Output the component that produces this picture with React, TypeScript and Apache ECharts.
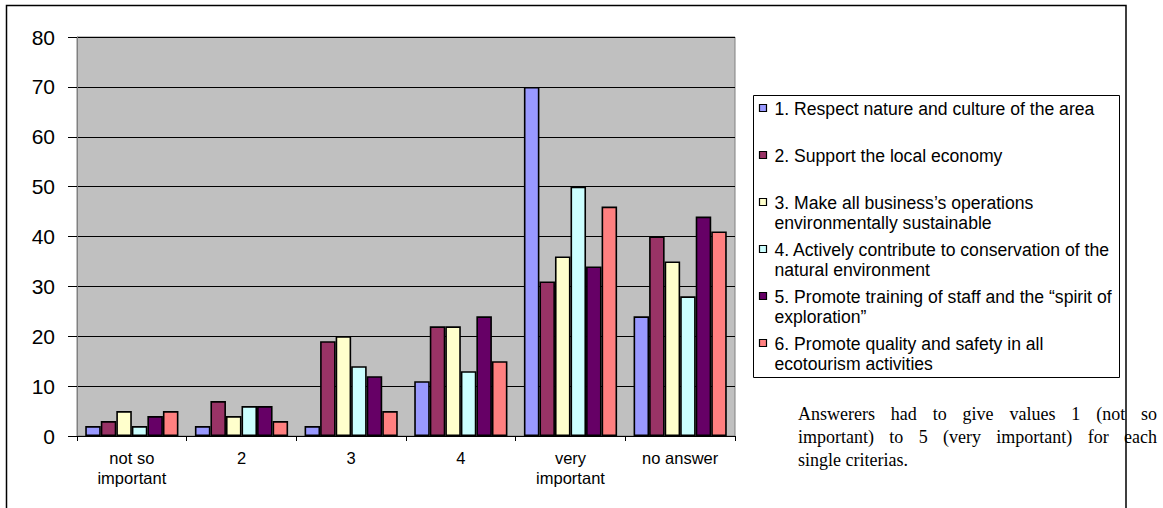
import React, { useEffect, useRef } from "react";
import * as echarts from "echarts";

// Answer scale shown on the category axis
const categories = ["not so\nimportant", "2", "3", "4", "very\nimportant", "no answer"];

// Criteria (legend entries; line breaks as laid out in the legend box)
const criteria = [
  "1. Respect nature and culture of the area",
  "2. Support the local economy",
  "3. Make all business\u2019s operations\nenvironmentally sustainable",
  "4. Actively contribute to conservation of the\nnatural environment",
  "5. Promote training of staff and the \u201cspirit of\nexploration\u201d",
  "6. Promote quality and safety in all\necotourism activities",
];

// Number of answers per criterion, one value per category
const respectNature = [2, 2, 2, 11, 70, 24];
const localEconomy = [3, 7, 19, 22, 31, 40];
const sustainableOps = [5, 4, 20, 22, 36, 35];
const conservation = [2, 6, 14, 13, 50, 28];
const staffTraining = [4, 6, 12, 24, 34, 44];
const qualitySafety = [5, 3, 5, 15, 46, 41];

const seriesValues = [respectNature, localEconomy, sustainableOps, conservation, staffTraining, qualitySafety];
const seriesColors = ["#9999FF", "#993366", "#FFFFCC", "#CCFFFF", "#660066", "#FF8080"];

const yTicks = { min: 0, max: 80, interval: 10 };

const noteLines = [
  "Answerers had to give values 1 (not so",
  "important) to 5 (very important) for each",
  "single criterias.",
];

const SANS = '"Liberation Sans", Arial, sans-serif';
const SERIF = '"Liberation Serif", "Times New Roman", serif';

// Spread the words of a line across [x0, x1] (justified text)
function justifiedWords(line: string, x0: number, x1: number, y: number, font: string, justify: boolean) {
  const canvas = document.createElement("canvas");
  const ctx = canvas.getContext("2d")!;
  ctx.font = font;
  const words = line.split(" ");
  const widths = words.map((w) => ctx.measureText(w).width);
  const total = widths.reduce((a, b) => a + b, 0);
  const gap = justify && words.length > 1 ? (x1 - x0 - total) / (words.length - 1) : ctx.measureText(" ").width;
  let x = x0;
  return words.map((w, i) => {
    const el = {
      type: "text",
      x,
      y,
      z: 10,
      style: { text: w, font, fill: "#000", verticalAlign: "middle", textAlign: "left" },
    };
    x += widths[i] + gap;
    return el;
  });
}

export default function App() {
  const ref = useRef<HTMLDivElement>(null);

  useEffect(() => {
    if (!ref.current) return;
    const chart = echarts.init(ref.current, undefined, { renderer: "svg" });

    const legendX = 753.5;
    const legendY = 95.5;
    const legendItemStep = 47;
    const legendFont = `17.6px ${SANS}`;

    const legendChildren: any[] = [
      {
        type: "rect",
        shape: { x: legendX, y: legendY, width: 366, height: 282 },
        style: { fill: "#fff", stroke: "#000", lineWidth: 1 },
      },
    ];
    criteria.forEach((name, i) => {
      const top = legendY + 3 + i * legendItemStep;
      legendChildren.push({
        type: "rect",
        shape: { x: legendX + 6, y: top + 6, width: 7, height: 7 },
        style: { fill: seriesColors[i], stroke: "#000", lineWidth: 1.2 },
      });
      legendChildren.push({
        type: "text",
        x: legendX + 21,
        y: top,
        style: {
          text: name,
          font: legendFont,
          lineHeight: 20,
          fill: "#000",
          verticalAlign: "top",
          textAlign: "left",
        },
      });
    });

    const noteFont = `18px ${SERIF}`;
    const noteElements: any[] = [];
    noteLines.forEach((line, i) => {
      noteElements.push(...justifiedWords(line, 798, 1157, 414 + i * 23, noteFont, i < noteLines.length - 1));
    });

    chart.setOption({
      animation: false,
      backgroundColor: "#fff",
      grid: {
        left: 77,
        top: 37,
        width: 658,
        height: 399,
        show: true,
        backgroundColor: "#C0C0C0",
        borderColor: "#808080",
        borderWidth: 1,
      },
      xAxis: {
        type: "category",
        data: categories,
        axisLine: { lineStyle: { color: "#000", width: 1 } },
        axisTick: { show: true, length: 5, lineStyle: { color: "#000" } },
        axisLabel: {
          interval: 0,
          color: "#000",
          fontFamily: SANS,
          fontSize: 16.5,
          lineHeight: 20,
          margin: 12,
        },
        splitLine: { show: false },
      },
      yAxis: {
        type: "value",
        min: yTicks.min,
        max: yTicks.max,
        interval: yTicks.interval,
        axisLine: { show: true, lineStyle: { color: "#808080", width: 1 } },
        axisTick: { show: true, length: 9, lineStyle: { color: "#000" } },
        axisLabel: { color: "#000", fontFamily: SANS, fontSize: 21, margin: 22 },
        splitLine: { show: true, lineStyle: { color: "#000", width: 1 } },
      },
      series: seriesValues.map((values, i) => ({
        type: "bar",
        name: criteria[i].replace(/\n/g, " "),
        data: values,
        barGap: "0%",
        barCategoryGap: "15%",
        itemStyle: { color: seriesColors[i], borderColor: "#000", borderWidth: 1.6 },
      })),
      graphic: [
        { type: "group", children: legendChildren },
        ...noteElements,
        {
          type: "rect",
          z: 20,
          shape: { x: 6.5, y: 5.5, width: 1119.5, height: 520 },
          style: { fill: "none", stroke: "#000", lineWidth: 1.5 },
        },
      ],
    });

    return () => chart.dispose();
  }, []);

  return (
    <div
      ref={ref}
      style={{ position: "absolute", left: 0, top: 0, width: 1163, height: 508 }}
    />
  );
}
